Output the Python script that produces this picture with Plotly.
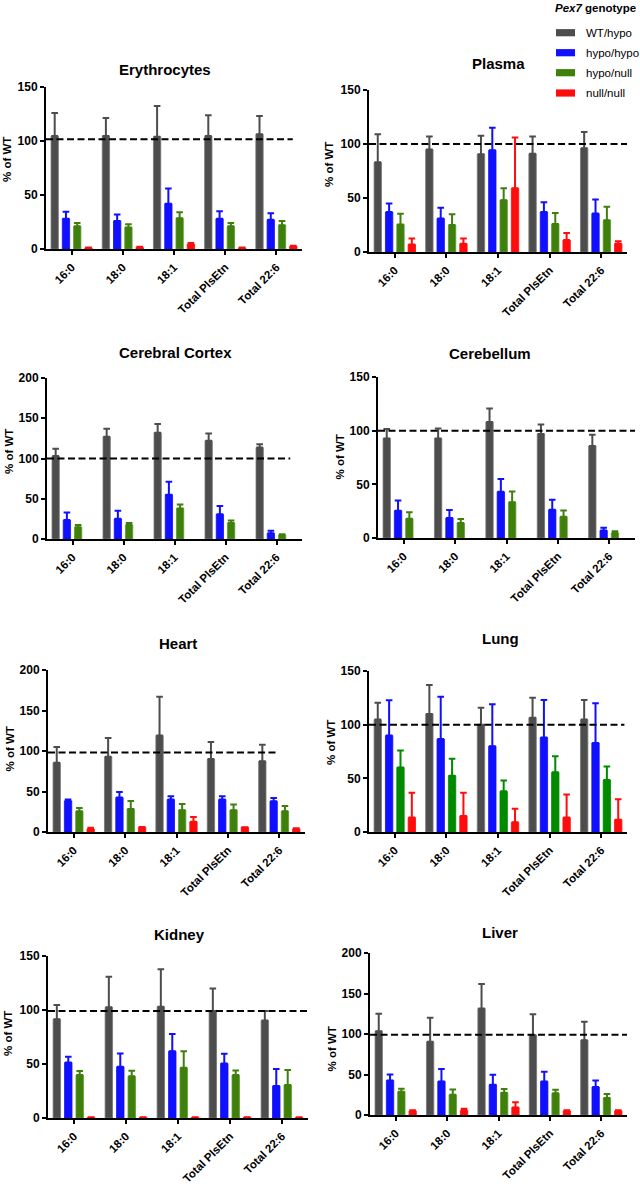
import plotly.graph_objects as go
from plotly.subplots import make_subplots

# ---------------- data ----------------
CATEGORIES = ["16:0", "18:0", "18:1", "Total PlsEtn", "Total 22:6"]
GENOTYPES = ["WT/hypo", "hypo/hypo", "hypo/null", "null/null"]
LEGEND_TITLE = "<b><i>Pex7</i> genotype</b>"
Y_TITLE = "% of WT"

# rows: WT/hypo, hypo/hypo, hypo/null, null/null ; values: % of WT (mean), upper error (SD)
ERY_MEAN = [[104.7, 104.7, 104.0, 104.7, 106.3],
            [28.0, 26.0, 42.0, 28.0, 27.0],
            [21.0, 20.0, 28.5, 21.0, 22.0],
            [1.0, 1.5, 4.5, 1.0, 2.5]]
ERY_ERR = [[21.3, 16.6, 28.4, 19.1, 16.9],
           [6.5, 6.0, 14.0, 7.0, 6.0],
           [3.0, 3.0, 5.5, 3.0, 4.0],
           [0.5, 0.5, 1.0, 0.5, 0.5]]
ERY_REF = 101.6

PLASMA_MEAN = [[83.0, 95.0, 90.6, 91.0, 96.0],
               [37.0, 31.0, 94.3, 37.0, 35.6],
               [25.4, 25.0, 48.0, 26.0, 29.4],
               [7.0, 7.7, 59.0, 11.0, 7.7]]
PLASMA_ERR = [[26.0, 12.0, 17.0, 16.0, 15.0],
              [8.0, 10.0, 20.7, 9.0, 13.0],
              [10.0, 10.0, 11.0, 10.0, 12.6],
              [5.4, 4.7, 47.0, 6.6, 2.3]]
PLASMA_REF = 100

CORTEX_MEAN = [[103.0, 127.0, 132.0, 122.0, 113.6],
               [23.5, 25.0, 55.0, 30.6, 7.0],
               [14.5, 17.4, 38.0, 20.0, 5.0],
               [None, None, None, None, None]]
CORTEX_ERR = [[9.0, 10.0, 11.0, 9.0, 4.2],
              [9.5, 10.0, 16.0, 10.4, 3.3],
              [2.9, 2.6, 5.0, 3.0, 0.8],
              [None, None, None, None, None]]
CORTEX_REF = 100

CEREB_MEAN = [[92.8, 92.8, 108.0, 97.0, 85.7],
              [25.4, 18.6, 43.0, 26.3, 7.0],
              [18.0, 14.0, 33.4, 19.8, 4.6],
              [None, None, None, None, None]]
CEREB_ERR = [[8.7, 9.2, 12.6, 8.8, 10.5],
             [9.6, 7.4, 12.0, 9.3, 2.6],
             [6.0, 3.6, 9.9, 5.9, 1.6],
             [None, None, None, None, None]]
CEREB_REF = 100

HEART_MEAN = [[85.4, 92.8, 119.0, 90.0, 87.4],
              [38.4, 42.5, 40.0, 40.0, 38.0],
              [25.6, 28.5, 27.0, 27.0, 25.6],
              [3.7, 5.8, 12.8, 5.8, 4.0]]
HEART_ERR = [[19.6, 23.2, 48.0, 21.0, 20.2],
             [1.6, 7.0, 4.0, 4.0, 4.0],
             [4.1, 9.9, 7.6, 7.0, 6.4],
             [1.7, 0.4, 5.8, 0.2, 0.5]]
HEART_REF = 98

LUNG_MEAN = [[104.7, 110.0, 100.0, 106.5, 104.7],
             [89.8, 86.6, 80.0, 88.0, 83.0],
             [60.2, 52.5, 37.9, 55.6, 48.4],
             [13.4, 15.0, 9.0, 13.4, 11.5]]
LUNG_ERR = [[15.8, 27.0, 15.8, 18.5, 18.3],
            [32.9, 39.4, 39.0, 35.0, 37.0],
            [15.8, 15.8, 10.1, 14.9, 12.6],
            [23.2, 21.6, 12.7, 21.6, 18.9]]
LUNG_REF = 100

KIDNEY_MEAN = [[91.5, 102.5, 103.0, 99.0, 90.3],
               [51.4, 47.4, 61.8, 50.5, 29.7],
               [39.8, 38.6, 46.5, 39.8, 30.6],
               [0.6, 0.6, 0.6, 0.6, 0.4]]
KIDNEY_ERR = [[13.2, 28.2, 34.7, 21.0, 8.7],
              [5.2, 12.3, 15.9, 8.9, 15.6],
              [3.7, 5.2, 15.3, 4.2, 13.8],
              [0.2, 0.2, 0.2, 0.2, 0.2]]
KIDNEY_REF = 99

LIVER_MEAN = [[103.5, 90.3, 131.4, 98.6, 92.4],
              [42.7, 41.5, 37.4, 41.5, 34.5],
              [28.7, 25.0, 27.5, 26.7, 21.0],
              [5.0, 5.3, 9.4, 5.0, 5.0]]
LIVER_ERR = [[21.5, 29.7, 30.4, 25.8, 22.6],
             [7.3, 15.2, 12.3, 11.9, 8.2],
             [3.7, 6.6, 4.5, 4.5, 5.0],
             [1.0, 2.5, 6.2, 1.0, 1.0]]
LIVER_REF = 99

PANEL_TITLES = ["Erythrocytes", "Plasma", "Cerebral Cortex", "Cerebellum",
                "Heart", "Lung", "Kidney", "Liver"]
PANEL_MEANS = [ERY_MEAN, PLASMA_MEAN, CORTEX_MEAN, CEREB_MEAN,
               HEART_MEAN, LUNG_MEAN, KIDNEY_MEAN, LIVER_MEAN]
PANEL_ERRS = [ERY_ERR, PLASMA_ERR, CORTEX_ERR, CEREB_ERR,
              HEART_ERR, LUNG_ERR, KIDNEY_ERR, LIVER_ERR]
PANEL_REFS = [ERY_REF, PLASMA_REF, CORTEX_REF, CEREB_REF,
              HEART_REF, LUNG_REF, KIDNEY_REF, LIVER_REF]
PANEL_YMAX = [150, 150, 200, 150, 200, 150, 150, 200]

# ---------------- style / layout ----------------
W, H = 640, 1189
fx = lambda px: px / W
fy = lambda py: 1 - py / H

COLORS = ["#4d4d4d", "#1010ff", "#3f7f0c", "#ff0d0d"]
LUNG_GREEN = "#008a00"
EDGE = ["#767676", "#1010ff", "#5a9a2a", "#ff0d0d"]

# plot areas in px: (x0, x1, ytop, ybottom)
DOMAINS = [(46, 302, 87, 249), (369, 627, 90, 252),
           (47, 302, 378, 539), (378, 635, 377, 538),
           (48, 305, 670, 832), (369, 627, 671, 832),
           (48, 308, 956, 1118), (370, 627, 953, 1115)]
TITLE_POS = [(165, 69), (498, 64), (175, 352), (490, 354),
             (178, 644), (500, 638), (179, 934), (500, 932)]
YTITLE_POS = [(7, 160), (329, 165), (9, 452), (339.5, 457),
              (9.5, 749), (331, 743), (8, 1034), (331.5, 1049)]
DASH_END = [4.32, 4.65, 4.27, 4.55, 3.97, 4.45, 4.5, 4.5]

FONT = "Liberation Sans, Arial, sans-serif"

fig = make_subplots(rows=4, cols=2)

annotations = []
shapes = []
for i in range(8):
    r, c = i // 2 + 1, i % 2 + 1
    means, errs = PANEL_MEANS[i], PANEL_ERRS[i]
    for g in range(4):
        col = COLORS[g]
        edge = EDGE[g]
        if g == 2 and PANEL_TITLES[i] == "Lung":
            col = LUNG_GREEN
            edge = LUNG_GREEN
        fig.add_trace(go.Bar(
            x=CATEGORIES, y=means[g], name=GENOTYPES[g], showlegend=False,
            marker=dict(color=col, line=dict(color=edge, width=0.8)),
            error_y=dict(type="data", array=errs[g], symmetric=False,
                         arrayminus=[0] * len(CATEGORIES),
                         color=col, thickness=2, width=3.3),
        ), row=r, col=c)
    x0, x1, yt, yb = DOMAINS[i]
    ax = "" if i == 0 else str(i + 1)
    fig.update_layout(**{
        f"xaxis{ax}": dict(domain=[fx(x0), fx(x1)], range=[-0.5, 4.5], type="category",
                           showline=True, linecolor="black", linewidth=2,
                           ticks="outside", ticklen=4, tickwidth=2, tickcolor="black",
                           ticklabelstandoff=1,
                           tickangle=-45, showgrid=False, zeroline=False, automargin=False,
                           tickfont=dict(family=FONT, size=11.5, color="black", weight="bold")),
        f"yaxis{ax}": dict(domain=[fy(yb), fy(yt)], range=[0, PANEL_YMAX[i]],
                           tickvals=list(range(0, PANEL_YMAX[i] + 1, 50)),
                           showline=True, linecolor="black", linewidth=2,
                           ticks="outside", ticklen=4, tickwidth=2, tickcolor="black",
                           showgrid=False, zeroline=False, automargin=False,
                           tickfont=dict(family=FONT, size=12, color="black", weight="bold")),
    })
    xref = "x" if i == 0 else f"x{i + 1}"
    yref = "y" if i == 0 else f"y{i + 1}"
    shapes.append(dict(type="line", xref=xref, yref=yref, x0=-0.5, x1=DASH_END[i],
                       y0=PANEL_REFS[i], y1=PANEL_REFS[i],
                       line=dict(color="black", width=2, dash="7px,3.5px")))
    tx, ty = TITLE_POS[i]
    annotations.append(dict(text=f"<b>{PANEL_TITLES[i]}</b>", x=fx(tx), y=fy(ty),
                            xref="paper", yref="paper", showarrow=False,
                            xanchor="center", yanchor="middle",
                            font=dict(family=FONT, size=15, color="black")))
    ytx, yty = YTITLE_POS[i]
    annotations.append(dict(text=f"<b>{Y_TITLE}</b>", x=fx(ytx), y=fy(yty),
                            xref="paper", yref="paper", showarrow=False, textangle=-90,
                            xanchor="center", yanchor="middle",
                            font=dict(family=FONT, size=11.5, color="black")))

# legend (drawn with shapes + text)
annotations.append(dict(text=LEGEND_TITLE, x=fx(553), y=fy(8.5), xref="paper", yref="paper",
                        showarrow=False, xanchor="left", yanchor="middle",
                        font=dict(family=FONT, size=11.5, color="black")))
LEG_Y = [32.7, 52.7, 72.7, 93]
for g in range(4):
    cy = LEG_Y[g]
    shapes.append(dict(type="rect", xref="paper", yref="paper",
                       x0=fx(556), x1=fx(575), y0=fy(cy + 3.6), y1=fy(cy - 3.6),
                       fillcolor=COLORS[g], line=dict(width=0)))
    annotations.append(dict(text=GENOTYPES[g], x=fx(584), y=fy(cy), xref="paper", yref="paper",
                            showarrow=False, xanchor="left", yanchor="middle",
                            font=dict(family=FONT, size=11.5, color="black")))

fig.update_layout(
    width=W, height=H, autosize=False,
    margin=dict(l=0, r=0, t=0, b=0),
    paper_bgcolor="white", plot_bgcolor="white",
    barmode="group", bargap=0.12, bargroupgap=0.35,
    showlegend=False,
    annotations=annotations, shapes=shapes,
    font=dict(family=FONT, color="black"),
)

fig.write_html("out.html",
               config={"displayModeBar": False, "staticPlot": True},
               post_script="document.body.style.margin='0';document.body.style.overflow='hidden';")
